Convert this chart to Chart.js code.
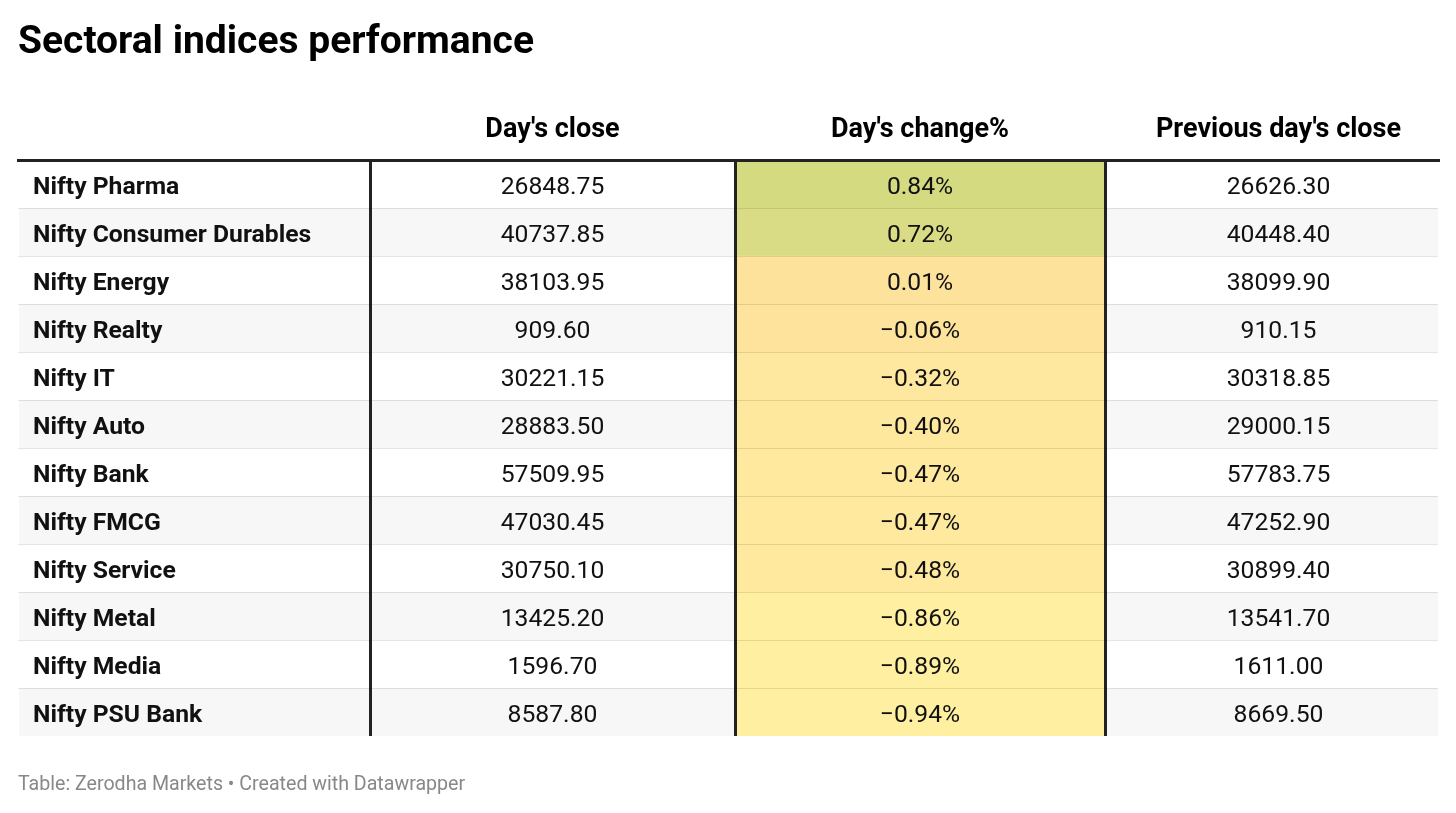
<!DOCTYPE html>
<html>
<head>
<meta charset="utf-8">
<title>Sectoral indices performance</title>
<script src="https://cdn.jsdelivr.net/npm/chart.js@4.4.1/dist/chart.umd.min.js"></script>
<style>
  html, body { margin: 0; padding: 0; background: #fff; }
  #wrap { width: 1456px; height: 813px; position: relative; }
</style>
</head>
<body>
<div id="wrap"><canvas id="tabel"></canvas></div>
<script>
// data
const sectors = ['Nifty Pharma', 'Nifty Consumer Durables', 'Nifty Energy', 'Nifty Realty', 'Nifty IT', 'Nifty Auto',
  'Nifty Bank', 'Nifty FMCG', 'Nifty Service', 'Nifty Metal', 'Nifty Media', 'Nifty PSU Bank'];
const dayClose = [26848.75, 40737.85, 38103.95, 909.60, 30221.15, 28883.50, 57509.95, 47030.45, 30750.10, 13425.20, 1596.70, 8587.80];
const changePct = [0.84, 0.72, 0.01, -0.06, -0.32, -0.40, -0.47, -0.47, -0.48, -0.86, -0.89, -0.94];
const prevClose = [26626.30, 40448.40, 38099.90, 910.15, 30318.85, 29000.15, 57783.75, 47252.90, 30899.40, 13541.70, 1611.00, 8669.50];
const columnHeaders = ['', "Day's close", "Day's change%", "Previous day's close"];

const judul = 'Sectoral indices performance';
const catatan = 'Table: Zerodha Markets \u2022 Created with Datawrapper';

// layout: kolom tabel dalam satuan sumbu x
const colEdges = [0, 352, 717, 1087, 1420];
const colShift = [0, 0, 0, 7]; // kolom terakhir teksnya agak ke kanan
const colMid = i => (colEdges[i] + colEdges[i + 1]) / 2 + colShift[i];

// warna heatmap untuk kolom perubahan
function heatColor(v) {
  const hex = h => [1, 3, 5].map(k => parseInt(h.substr(k, 2), 16));
  const mix = (a, b, t) => {
    const c1 = hex(a), c2 = hex(b);
    return 'rgb(' + c1.map((c, k) => Math.round(c + (c2[k] - c) * t)).join(',') + ')';
  };
  if (v >= 0) return mix('#fde29c', '#cbd97b', Math.min(v, 1));
  return mix('#fde29c', '#fff1a1', Math.min(-v, 1));
}

const fmtAngka = v => v.toFixed(2);
const fmtPersen = v => v.toFixed(2).replace('-', '\u2212') + '%';

// plugin untuk semua teks tabel
const teksTabel = {
  id: 'teksTabel',
  afterDraw(chart) {
    const ctx = chart.ctx;
    const sx = chart.scales.x;
    const sy = chart.scales.y;
    ctx.save();
    ctx.textBaseline = 'alphabetic';
    ctx.fillStyle = '#000';

    // judul
    ctx.font = 'bold 39px Roboto';
    ctx.textAlign = 'left';
    ctx.fillText(judul, 18, 53);

    // header kolom
    ctx.font = 'bold 27px Roboto';
    ctx.textAlign = 'center';
    columnHeaders.forEach((h, c) => {
      if (h) ctx.fillText(h, sx.getPixelForValue(colMid(c)), 137);
    });

    // baris
    sectors.forEach((nama, i) => {
      const base = Math.round(sy.getPixelForValue(i)) + 10;
      ctx.fillStyle = '#111';
      ctx.font = 'bold 24.7px Roboto';
      ctx.textAlign = 'left';
      ctx.fillText(nama, sx.getPixelForValue(colEdges[0]) + 15, base);

      ctx.font = '24.7px Roboto';
      ctx.textAlign = 'center';
      ctx.fillText(fmtAngka(dayClose[i]), sx.getPixelForValue(colMid(1)), base);
      ctx.fillText(fmtPersen(changePct[i]), sx.getPixelForValue(colMid(2)), base);
      ctx.fillText(fmtAngka(prevClose[i]), sx.getPixelForValue(colMid(3)), base);
    });

    // sumber
    ctx.font = '19.6px Roboto';
    ctx.fillStyle = '#888';
    ctx.textAlign = 'left';
    ctx.fillText(catatan, 18, 790);
    ctx.restore();
  }
};

const ctx = document.getElementById('tabel').getContext('2d');
new Chart(ctx, {
  type: 'bar',
  data: {
    labels: sectors,
    datasets: [
      {
        // sel heatmap Day's change%
        label: "Day's change%",
        data: changePct.map(() => [colEdges[2], colEdges[3]]),
        backgroundColor: changePct.map(heatColor),
        borderWidth: 0,
        grouped: false,
        barPercentage: 1,
        categoryPercentage: 1
      },
      {
        // latar baris selang-seling
        label: 'baris',
        data: sectors.map(() => [colEdges[0], colEdges[colEdges.length - 1]]),
        backgroundColor: sectors.map((_, i) => i % 2 ? '#f7f7f7' : '#ffffff'),
        borderWidth: 0,
        grouped: false,
        barPercentage: 1,
        categoryPercentage: 1
      }
    ]
  },
  options: {
    indexAxis: 'y',
    animation: false,
    responsive: true,
    maintainAspectRatio: false,
    events: [],
    layout: { padding: { top: 160, right: 18, bottom: 77, left: 18 } },
    plugins: {
      legend: { display: false },
      tooltip: { enabled: false },
      title: { display: false }
    },
    scales: {
      x: {
        type: 'linear',
        position: 'top',
        min: colEdges[0],
        max: colEdges[colEdges.length - 1],
        afterBuildTicks: s => { s.ticks = colEdges.map(v => ({ value: v })); },
        ticks: { display: false },
        grid: {
          z: 1,
          drawTicks: false,
          lineWidth: 3,
          color: c => (c.index > 0 && c.index < colEdges.length - 1) ? '#222' : 'rgba(0,0,0,0)'
        },
        border: { display: true, color: '#222', width: 3, z: 1 }
      },
      y: {
        type: 'category',
        ticks: { display: false },
        grid: {
          z: 1,
          offset: true,
          drawTicks: false,
          lineWidth: 1,
          color: c => (c.type === 'tick' && c.index > 0) ? 'rgba(0,0,0,0.1)' : 'rgba(0,0,0,0)'
        },
        border: { display: false }
      }
    }
  },
  plugins: [teksTabel]
});
</script>
</body>
</html>
